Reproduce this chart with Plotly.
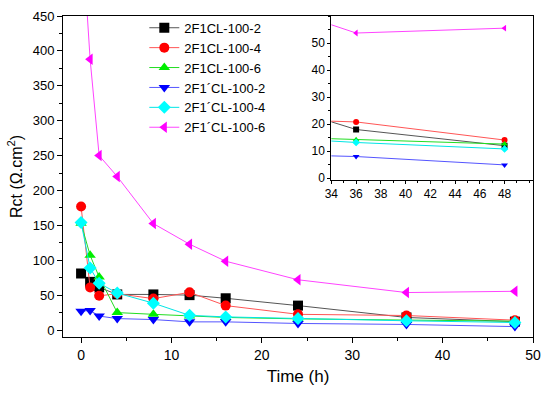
import plotly.graph_objects as go

time_h = [0, 1, 2, 4, 8, 12, 16, 24, 36, 48]

names = ["2F1CL-100-2", "2F1CL-100-4", "2F1CL-100-6",
         "2F1´CL-100-2", "2F1´CL-100-4", "2F1´CL-100-6"]

rct_2F1CL_100_2 = [81, 69, 61, 51, 51, 50, 45.5, 35, 18, 12]
rct_2F1CL_100_4 = [177, 61, 49, 52, 45, 54, 35, 22.5, 20.8, 14.1]
rct_2F1CL_100_6 = [153, 107, 76, 25, 22.5, 20, 18, 16, 14.2, 12.6]
rct_2F1pCL_100_2 = [27, 28, 20, 16.4, 15, 11.7, 11.7, 9.4, 8, 4.9]
rct_2F1pCL_100_4 = [154, 89, 67, 53, 38.5, 21, 18.8, 16.4, 13.2, 10.8]
rct_2F1pCL_100_6 = [590, 388, 250, 220, 152.5, 123, 98.6, 72, 53.7, 55.5]

inset_x_ticks = [34, 36, 38, 40, 42, 44, 46, 48]
inset_y_ticks = [0, 10, 20, 30, 40, 50]

series = [rct_2F1CL_100_2, rct_2F1CL_100_4, rct_2F1CL_100_6,
          rct_2F1pCL_100_2, rct_2F1pCL_100_4, rct_2F1pCL_100_6]

colors = ["#000000", "#ff0000", "#00ee00", "#0000ff", "#00ffff", "#ff00ff"]
line_colors = ["#555555", "#ff5555", "#22dd22", "#5555ff", "#00e5e5", "#ff44ff"]
symbols = ["square", "circle", "triangle-up", "triangle-down", "diamond", "triangle-left"]

FONT = "Liberation Sans, Arial"

fig = go.Figure()
for nm, ys, c, lc, s in zip(names, series, colors, line_colors, symbols):
    fig.add_trace(go.Scatter(
        x=time_h, y=ys, name=nm, mode="lines+markers",
        line=dict(color=lc, width=1),
        marker=dict(color=c, symbol=s, size=10),
        xaxis="x", yaxis="y"))
for nm, ys, c, lc, s in zip(names, series, colors, line_colors, symbols):
    fig.add_trace(go.Scatter(
        x=time_h, y=ys, name=nm, mode="lines+markers", showlegend=False,
        line=dict(color=lc, width=1),
        marker=dict(color=c, symbol=s, size=6),
        xaxis="x2", yaxis="y2"))

def ax(size, ticklen):
    return dict(showline=True, linecolor="black", linewidth=1, mirror=True,
                ticks="outside", ticklen=ticklen, tickcolor="black", showgrid=False,
                zeroline=False, tickfont=dict(family=FONT, size=size, color="black"))

fig.update_layout(
    width=550, height=395,
    margin=dict(l=63, r=9, t=12, b=58),
    paper_bgcolor="white", plot_bgcolor="white",
    font=dict(family=FONT, color="black"),
    xaxis=dict(range=[-2, 50], dtick=10, domain=[0, 1],
               minor=dict(dtick=5, ticks="outside", ticklen=3, tickcolor="black"),
               title=dict(text="Time (h)", font=dict(size=17), standoff=8),
               **ax(14, 5)),
    yaxis=dict(range=[-10, 450], dtick=50, domain=[0, 1],
               minor=dict(dtick=25, ticks="outside", ticklen=3, tickcolor="black"),
               title=dict(text="Rct (Ω.cm<sup>2</sup>)", font=dict(size=16), standoff=6),
               **ax(13, 5)),
    xaxis2=dict(range=[34, 50.3], tickmode="array", tickvals=inset_x_ticks,
                domain=[0.571, 1.0], anchor="y2",
                minor=dict(dtick=1, ticks="outside", ticklen=2, tickcolor="black"),
                **ax(12, 3)),
    yaxis2=dict(range=[-0.7, 60], tickmode="array", tickvals=inset_y_ticks,
                domain=[0.489, 1.0], anchor="x2",
                minor=dict(dtick=5, ticks="outside", ticklen=2, tickcolor="black"),
                **ax(12, 3)),
    legend=dict(x=0.173, y=1.01, xanchor="left", yanchor="top",
                bgcolor="rgba(0,0,0,0)", font=dict(size=13, color="black"),
                tracegroupgap=0, itemwidth=30),
    showlegend=True,
)

fig.write_html("out.html",
               config={"displayModeBar": False},
               post_script="document.body.style.margin='0';document.body.style.overflow='hidden';")
